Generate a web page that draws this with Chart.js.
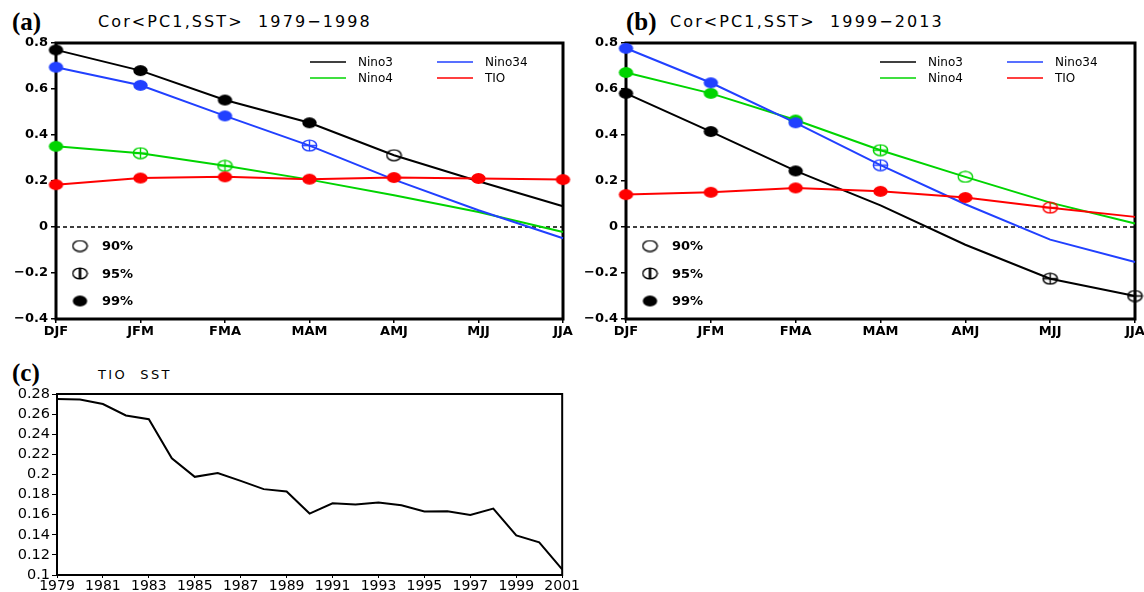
<!DOCTYPE html>
<html>
<head>
<meta charset="utf-8">
<script src="https://cdn.jsdelivr.net/npm/chart.js@4.4.1/dist/chart.umd.min.js"></script>
<style>
  body { margin: 0; background: #fff; width: 1144px; height: 592px; position: relative; overflow: hidden; }
  .panel { position: absolute; }
  .tag { position: absolute; font-family: "Liberation Serif"; font-weight: bold; font-size: 25px; line-height: 25px; }
  .ttl { position: absolute; font-family: "DejaVu Sans"; font-size: 16px; line-height: 16px; letter-spacing: 2.1px; white-space: pre; }
</style>
</head>
<body>
<div class="tag" style="left:12px;top:9px">(a)</div>
<div class="ttl" style="left:98px;top:14px">Cor&lt;PC1,SST&gt;  1979−1998</div>
<div class="tag" style="left:626px;top:9px">(b)</div>
<div class="ttl" style="left:670px;top:14px">Cor&lt;PC1,SST&gt;  1999−2013</div>
<div class="tag" style="left:12px;top:360px">(c)</div>
<div class="ttl" style="left:98px;top:367px;font-size:13px;letter-spacing:2.4px">TIO  SST</div>

<div class="panel" style="left:0;top:0;width:580px;height:345px"><canvas id="chartA"></canvas></div>
<div class="panel" style="left:570px;top:0;width:600px;height:345px"><canvas id="chartB"></canvas></div>
<div class="panel" style="left:0;top:370px;width:580px;height:222px"><canvas id="chartC"></canvas></div>

<script>
const seasons = ['DJF', 'JFM', 'FMA', 'MAM', 'AMJ', 'MJJ', 'JJA'];

// (a) 1979-1998
const nino3A  = [0.770, 0.680, 0.552, 0.453, 0.312, 0.199, 0.090];
const nino34A = [0.695, 0.616, 0.483, 0.354, 0.206, 0.073, -0.049];
const nino4A  = [0.351, 0.321, 0.266, 0.206, 0.138, 0.065, -0.022];
const tioA    = [0.184, 0.213, 0.218, 0.208, 0.215, 0.211, 0.206];
// significance level of each point (0 = no marker)
const sigNino3A  = [99, 99, 99, 99, 90, 0, 0];
const sigNino34A = [99, 99, 99, 95, 0, 0, 0];
const sigNino4A  = [99, 95, 95, 0, 0, 0, 0];
const sigTioA    = [99, 99, 99, 99, 99, 99, 99];

// (b) 1999-2013
const nino3B  = [0.581, 0.415, 0.244, 0.094, -0.077, -0.225, -0.300];
const nino34B = [0.777, 0.627, 0.453, 0.269, 0.099, -0.055, -0.152];
const nino4B  = [0.672, 0.581, 0.465, 0.334, 0.218, 0.106, 0.015];
const tioB    = [0.141, 0.151, 0.170, 0.155, 0.128, 0.084, 0.044];
const sigNino3B  = [99, 99, 99, 0, 0, 95, 95];
const sigNino34B = [99, 99, 99, 95, 0, 0, 0];
const sigNino4B  = [99, 99, 99, 95, 90, 0, 0];
const sigTioB    = [99, 99, 99, 99, 99, 95, 0];

// (c) TIO SST
const years = [1979, 1980, 1981, 1982, 1983, 1984, 1985, 1986, 1987, 1988, 1989, 1990,
  1991, 1992, 1993, 1994, 1995, 1996, 1997, 1998, 1999, 2000, 2001];
const tioSst = [0.275, 0.2745, 0.270, 0.2587, 0.255, 0.216, 0.1976, 0.2015, 0.1936, 0.1854,
  0.1831, 0.1611, 0.1713, 0.170, 0.172, 0.1693, 0.1631, 0.1634, 0.1598, 0.166, 0.1394, 0.1325, 0.1056];
const yearTicks = [1979, 1981, 1983, 1985, 1987, 1989, 1991, 1993, 1995, 1997, 1999, 2001];

const seriesNames = ['Nino3', 'Nino34', 'Nino4', 'TIO'];
const sigLevels = [90, 95, 99];
const colors = { Nino3: '#000000', Nino34: '#2140ff', Nino4: '#00d400', TIO: '#ff0000' };

const markerCache = {};
function markerCanvas(color, sig, legend) {
  const key = color + sig + (legend ? 'L' : '');
  if (markerCache[key]) return markerCache[key];
  const c = document.createElement('canvas');
  c.width = 17; c.height = 13;
  const g = c.getContext('2d');
  g.beginPath();
  g.ellipse(8.5, 6.5, 7.2, 5.4, 0, 0, Math.PI * 2);
  if (sig === 99) {
    g.fillStyle = color;
    g.fill();
  } else {
    g.strokeStyle = color;
    g.lineWidth = 1.4;
    g.stroke();
    if (sig === 95) {
      g.beginPath();
      g.moveTo(8.5, 1); g.lineTo(8.5, 12);
      if (!legend) { g.moveTo(1.5, 6.5); g.lineTo(15.5, 6.5); }
      g.lineWidth = legend ? 2.6 : 1.4;
      g.stroke();
    }
  }
  markerCache[key] = c;
  return c;
}

function seriesSet(label, values, sig, order) {
  const color = colors[label];
  return {
    label,
    data: values,
    borderColor: color,
    backgroundColor: color,
    borderWidth: 2,
    order,
    tension: 0,
    fill: false,
    pointStyle: ctx => sig[ctx.dataIndex] ? markerCanvas(color, sig[ctx.dataIndex]) : 'circle',
    pointRadius: ctx => sig[ctx.dataIndex] ? 7 : 0,
  };
}

// box round the plot area, plus the dashed zero line where asked
const framePlugin = {
  id: 'frame',
  beforeDatasetsDraw(chart, args, opts) {
    const { ctx, chartArea: a } = chart;
    ctx.save();
    if (opts.zeroLine) {
      const y0 = chart.scales.y.getPixelForValue(0);
      ctx.strokeStyle = '#000';
      ctx.lineWidth = 1.4;
      ctx.setLineDash([4, 3]);
      ctx.beginPath();
      ctx.moveTo(a.left, y0); ctx.lineTo(a.right, y0);
      ctx.stroke();
      ctx.setLineDash([]);
    }
    ctx.strokeStyle = '#000';
    ctx.lineWidth = opts.width || 2;
    ctx.strokeRect(a.left, a.top, a.right - a.left, a.bottom - a.top);
    ctx.restore();
  }
};

const keyPlugin = {
  id: 'key',
  afterDatasetsDraw(chart) {
    const { ctx, chartArea: a } = chart;
    ctx.save();
    ctx.textBaseline = 'middle';
    ctx.fillStyle = '#000';
    ctx.font = '12px "DejaVu Sans"';
    seriesNames.forEach((name, i) => {
      const x = a.left + (i % 2 ? 381 : 254);
      const y = a.top + (i < 2 ? 19 : 35);
      ctx.strokeStyle = colors[name];
      ctx.lineWidth = 1.6;
      ctx.beginPath();
      ctx.moveTo(x, y); ctx.lineTo(x + 36, y);
      ctx.stroke();
      ctx.fillText(name, x + 48, y + 1);
    });
    ctx.font = 'bold 13px "DejaVu Sans"';
    sigLevels.forEach((lev, i) => {
      const y = a.top + 203 + i * 27.5;
      const m = markerCanvas('#000', lev, true);
      ctx.drawImage(m, a.left + 24 - m.width / 2, y - m.height / 2);
      ctx.fillText(lev + '%', a.left + 46, y + 1);
    });
    ctx.restore();
  }
};

function fmtCor(v) {
  const r = Math.round(v * 10) / 10;
  return r === 0 ? '0' : r.toFixed(1).replace('-', '\u2212');
}

function corOptions() {
  return {
    responsive: true,
    maintainAspectRatio: false,
    animation: false,
    events: [],
    layout: { padding: { top: 43, right: 17, bottom: 6, left: 0 } },
    plugins: { legend: { display: false }, tooltip: { enabled: false }, frame: { width: 3, zeroLine: true } },
    scales: {
      x: {
        type: 'category',
        labels: seasons,
        offset: false,
        border: { display: false },
        grid: { drawOnChartArea: false, tickLength: 4, color: '#000', lineWidth: 1.5 },
        ticks: { color: '#000', padding: 1, autoSkip: false, maxRotation: 0,
          font: { family: 'DejaVu Sans', weight: 'bold', size: 13 } },
        afterFit: s => { s.height = 20; }
      },
      y: {
        min: -0.4,
        max: 0.8,
        border: { display: false },
        grid: { drawOnChartArea: false, color: '#000', lineWidth: 1.5, tickLength: 5 },
        ticks: { stepSize: 0.2, color: '#000', padding: 3, autoSkip: false, callback: fmtCor,
          font: { family: 'DejaVu Sans', weight: 'bold', size: 13 } },
        afterFit: s => { s.width = 56; }
      }
    }
  };
}

new Chart(document.getElementById('chartA'), {
  type: 'line',
  data: {
    labels: seasons,
    datasets: [
      seriesSet('TIO', tioA, sigTioA, 0),
      seriesSet('Nino34', nino34A, sigNino34A, 1),
      seriesSet('Nino3', nino3A, sigNino3A, 2),
      seriesSet('Nino4', nino4A, sigNino4A, 3),
    ]
  },
  options: corOptions(),
  plugins: [framePlugin, keyPlugin]
});

const optsB = corOptions();
optsB.layout.padding.right = 600 - 565;
new Chart(document.getElementById('chartB'), {
  type: 'line',
  data: {
    labels: seasons,
    datasets: [
      seriesSet('TIO', tioB, sigTioB, 0),
      seriesSet('Nino34', nino34B, sigNino34B, 1),
      seriesSet('Nino3', nino3B, sigNino3B, 2),
      seriesSet('Nino4', nino4B, sigNino4B, 3),
    ]
  },
  options: optsB,
  plugins: [framePlugin, keyPlugin]
});

new Chart(document.getElementById('chartC'), {
  type: 'line',
  data: {
    datasets: [{
      label: 'TIO SST',
      data: years.map((y, i) => ({ x: y, y: tioSst[i] })),
      borderColor: '#000',
      borderWidth: 2,
      pointRadius: 0,
      tension: 0,
      fill: false
    }]
  },
  options: {
    responsive: true,
    maintainAspectRatio: false,
    animation: false,
    events: [],
    layout: { padding: { top: 24, right: 17, bottom: 0, left: 0 } },
    plugins: { legend: { display: false }, tooltip: { enabled: false }, frame: { width: 2 } },
    scales: {
      x: {
        type: 'linear',
        min: 1979,
        max: 2001,
        afterBuildTicks: s => { s.ticks = yearTicks.map(v => ({ value: v })); },
        border: { display: false },
        grid: { drawOnChartArea: false, tickLength: 3, color: '#000' },
        ticks: { color: '#000', padding: 0, autoSkip: false, maxRotation: 0,
          callback: v => String(v), font: { family: 'DejaVu Sans', size: 14 } },
        afterFit: s => { s.height = 17; }
      },
      y: {
        min: 0.1,
        max: 0.28,
        border: { display: false },
        grid: { drawOnChartArea: false, tickLength: 5, color: '#000' },
        ticks: { stepSize: 0.02, color: '#000', padding: 2, autoSkip: false,
          callback: v => String(+v.toFixed(2)), font: { family: 'DejaVu Sans', size: 14.5 } },
        afterFit: s => { s.width = 57; }
      }
    }
  },
  plugins: [framePlugin]
});
</script>
</body>
</html>
